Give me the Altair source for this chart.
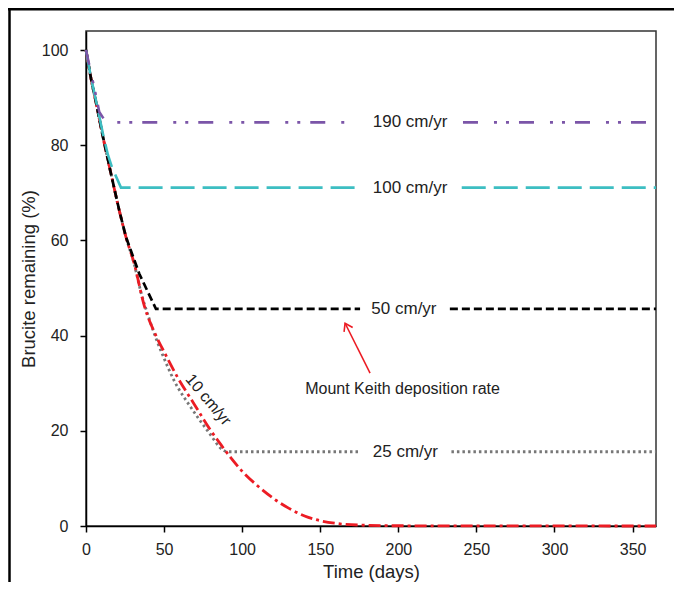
import altair as alt
import pandas as pd

# ---- data ----
# 10 cm/yr (red, dash-dot) – full decay curve
red_days = [0, 3.2, 6.4, 10.7, 16, 21.3, 25.6, 30.9, 37.3, 44.8, 50, 58.7, 69.3, 80, 87.5, 92.8, 100, 110, 120, 130, 140, 150, 160, 175, 200, 365]
red_vals = [100, 94, 89, 82, 74, 66.3, 60.7, 55.1, 46.3, 40, 36.6, 31.2, 25.6, 20, 16.6, 14.3, 11.5, 8.4, 5.8, 3.7, 2.1, 1.1, 0.55, 0.2, 0.05, 0]

# 25 cm/yr (grey, dotted)
gray_days = [0, 3.2, 6.4, 10.7, 16, 21.3, 25.6, 30.9, 35.2, 40.5, 45.9, 49, 56.5, 67.2, 77.9, 88.5, 90.7, 175.5]
gray_vals = [100, 94, 89, 82, 74, 66.3, 60.7, 55, 49.1, 43.5, 38.5, 36, 30.5, 24.9, 20, 15.8, 15.6, 15.6]
gray_days2 = [234, 365]
gray_vals2 = [15.6, 15.6]

# 50 cm/yr (black, dashed)
black_days = [0, 3.2, 6.4, 10.7, 16, 21.3, 25.6, 34.1, 44.8, 175.5]
black_vals = [100, 94, 89, 82, 74, 66.3, 60.7, 53, 45.6, 45.6]
black_days2 = [233, 365]
black_vals2 = [45.6, 45.6]

# 100 cm/yr (cyan, long dash)
cyan_days = [0, 3.2, 6.4, 10.7, 14, 16.5, 18.5, 22.4, 174.2]
cyan_vals = [100, 94.2, 89.4, 82.6, 78, 75.5, 74, 71.1, 71.1]
cyan_days2 = [240.6, 365]
cyan_vals2 = [71.1, 71.1]

# 190 cm/yr (purple, dash-dot-dot)
purple_days = [0, 3, 6, 8.5, 12.8, 171]
purple_vals = [100, 95.5, 91, 87, 84.8, 84.8]
purple_days2 = [241.4, 365]
purple_vals2 = [84.8, 84.8]

# labels
rate_labels = ["190 cm/yr", "100 cm/yr", "50 cm/yr", "25 cm/yr"]
rate_label_days = [207.5, 207.5, 203.6, 204.5]
rate_label_vals = [84.8, 71.1, 45.6, 15.6]

curve_label = ["10 cm/yr"]
curve_label_day = [78.3]
curve_label_val = [26.5]

note_text = ["Mount Keith deposition rate"]
note_day = [202.7]
note_val = [28.8]
arrow_tail = [181.9, 32.1]
arrow_tip = [165.9, 42.6]

x_ticks = [0, 50, 100, 150, 200, 250, 300, 350]
y_ticks = [0, 20, 40, 60, 80, 100]

RED = "#EC1C24"
GRAY = "#777777"
BLACK = "#000000"
CYAN = "#3DBEC2"
PURPLE = "#7B55A8"


def seg_df(parts):
    rows = []
    for i, (ds, vs) in enumerate(parts):
        for d, v in zip(ds, vs):
            rows.append({"day": d, "value": v, "seg": i})
    return pd.DataFrame(rows)


X = alt.X("day:Q", scale=alt.Scale(domain=[0, 365], nice=False, zero=False),
          axis=alt.Axis(values=x_ticks, title="Time (days)", labelFlush=False))
Y = alt.Y("value:Q", scale=alt.Scale(domain=[0, 104], nice=False),
          axis=alt.Axis(values=y_ticks, title="Brucite remaining (%)", labelFlush=False))


def line(parts, color, dash, width=2.5, interp="linear"):
    return alt.Chart(seg_df(parts)).mark_line(
        color=color, strokeDash=dash, strokeWidth=width, interpolate=interp
    ).encode(x=X, y=Y, detail="seg:N", order="day:Q")


gray_l = line([(gray_days, gray_vals), (gray_days2, gray_vals2)], GRAY, [2.5, 3], 2.8, "monotone")
red_l = line([(red_days, red_vals)], RED, [12, 4, 3, 4], 2.8, "monotone")
black_l = line([(black_days, black_vals), (black_days2, black_vals2)], BLACK, [8, 4], 2.7)
cyan_l = line([(cyan_days, cyan_vals), (cyan_days2, cyan_vals2)], CYAN, [24, 8], 2.6)
purple_l = line([(purple_days, purple_vals), (purple_days2, purple_vals2)], PURPLE, [15, 16, 3, 9, 3, 10], 2.6)

lab_df = pd.DataFrame({"day": rate_label_days, "value": rate_label_vals, "t": rate_labels})
labels = alt.Chart(lab_df).mark_text(fontSize=17, color="#222222", baseline="middle", align="center").encode(
    x=X, y=Y, text="t:N")

cl_df = pd.DataFrame({"day": curve_label_day, "value": curve_label_val, "t": curve_label})
curve_lab = alt.Chart(cl_df).mark_text(fontSize=16, color="#222222", baseline="middle", align="center", angle=50).encode(
    x=X, y=Y, text="t:N")

note_df = pd.DataFrame({"day": note_day, "value": note_val, "t": note_text})
note = alt.Chart(note_df).mark_text(fontSize=16, color="#222222", baseline="middle", align="center").encode(
    x=X, y=Y, text="t:N")

arr_df = pd.DataFrame({"day": [arrow_tail[0]], "value": [arrow_tail[1]],
                       "day2": [arrow_tip[0]], "value2": [arrow_tip[1]]})
arrow = alt.Chart(arr_df).mark_rule(color=RED, strokeWidth=1.6).encode(
    x=X, y=Y, x2="day2:Q", y2="value2:Q")
head_df = pd.DataFrame({"day": [arrow_tip[0]], "value": [arrow_tip[1]]})
head = alt.Chart(head_df).mark_point(
    shape="M -0.6 0.9 L 0 0 L 0.6 0.9", filled=False, size=260, angle=333,
    color=RED, strokeWidth=1.6, opacity=1
).encode(x=X, y=Y)

one = pd.DataFrame({"k": [0]})
frame_top = alt.Chart(one).mark_rule(color="#000000", strokeWidth=2.5).encode(
    x=alt.value(-78), x2=alt.value(600), y=alt.value(-21.8))
frame_left = alt.Chart(one).mark_rule(color="#000000", strokeWidth=2.5).encode(
    x=alt.value(-76.5), y=alt.value(-23), y2=alt.value(570))

chart = alt.layer(
    gray_l, red_l, black_l, cyan_l, purple_l, labels, curve_lab, note, arrow, head, frame_top, frame_left
).properties(
    width=570, height=495, autosize="none",
    padding={"left": 78, "top": 23, "right": 18, "bottom": 56}
).configure(
    font="Liberation Sans"
).configure_view(
    stroke="#333333", strokeWidth=1.5
).configure_axis(
    grid=False, domainColor="#000000", domainWidth=1.5, tickColor="#000000", tickWidth=1.5,
    tickSize=6, labelFontSize=16, labelColor="#222222", titleFontSize=18.5,
    titleFontWeight="normal", titleColor="#222222"
).configure_axisX(
    labelPadding=9, titlePadding=5
).configure_axisY(
    labelPadding=12, titlePadding=3
)

chart.save("out.html", embed_options={"renderer": "svg", "actions": False})
